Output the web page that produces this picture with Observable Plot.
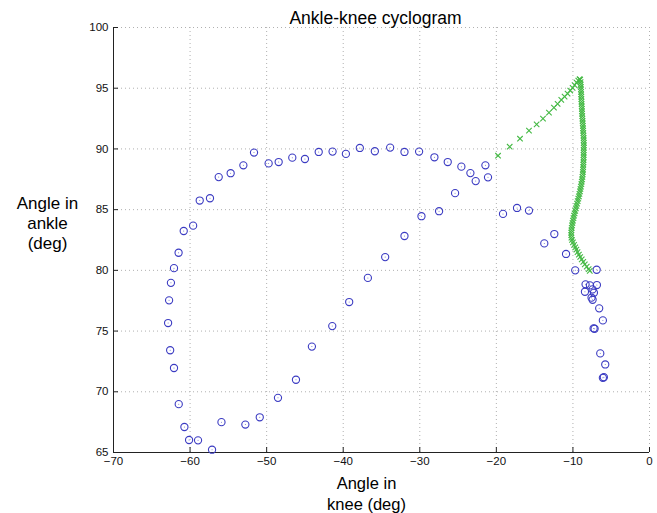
<!DOCTYPE html>
<html>
<head>
<meta charset="utf-8">
<script src="https://cdn.jsdelivr.net/npm/d3@7"></script>
<script src="https://cdn.jsdelivr.net/npm/@observablehq/plot@0.6"></script>
<style>
  html, body { margin: 0; padding: 0; background: #fff; }
  svg { display: block; }
</style>
</head>
<body>
<div id="chart"></div>
<script>
const titleText = "Ankle-knee cyclogram";
const xLabel = "Angle in\nknee (deg)";
const yLabel = "Angle in\nankle\n(deg)";
const xTicks = [-70, -60, -50, -40, -30, -20, -10, 0];
const yTicks = [65, 70, 75, 80, 85, 90, 95, 100];

// Blue circles (knee angle, ankle angle)
const blueKnee = [
  -21.43, -21.09, -22.7, -23.39, -24.57, -26.35, -28.09, -30.09, -32.0, -33.87,
  -35.87, -37.83, -39.65, -41.39, -43.2, -45.0, -46.65, -48.43, -49.74, -51.65,
  -53.04, -54.7, -56.26, -57.4, -58.74, -59.6, -60.83, -61.5, -62.1, -62.5,
  -62.74, -62.87, -62.6, -62.1, -61.48, -60.74, -60.13, -58.96, -57.13, -55.9,
  -52.78, -50.9, -48.52, -46.17, -44.09, -41.43, -39.22, -36.78, -34.52, -32.0,
  -29.78, -27.48, -25.39, -19.13, -17.3, -15.74, -13.74, -12.43, -10.9, -9.7,
  -6.9, -8.35, -7.78, -6.87, -8.43, -7.43, -7.26, -7.57, -7.43, -6.57,
  -6.09, -7.3, -7.17, -6.43, -5.78, -6.09, -5.96
];
const blueAnkle = [
  88.65, 87.66, 87.35, 88.01, 88.54, 88.92, 89.31, 89.78, 89.75, 90.11,
  89.81, 90.08, 89.59, 89.78, 89.75, 89.17, 89.28, 88.92, 88.81, 89.7,
  88.65, 88.0, 87.68, 85.94, 85.75, 83.68, 83.24, 81.45, 80.18, 78.97,
  77.53, 75.66, 73.42, 71.96, 68.98, 67.1, 66.03, 66.0, 65.23, 67.5,
  67.3, 67.9, 69.5, 70.99, 73.72, 75.41, 77.39, 79.38, 81.09, 82.83,
  84.46, 84.87, 86.36, 84.65, 85.14, 84.92, 82.22, 82.99, 81.35, 80.0,
  80.05, 78.85, 78.76, 78.79, 78.24, 78.43, 78.16, 77.75, 77.58, 76.87,
  75.88, 75.22, 75.19, 73.16, 72.25, 71.15, 71.2
];

// Green crosses (knee angle, ankle angle)
const greenKnee = [
  -19.78, -18.26, -16.91, -15.74, -14.74, -13.91, -13.13, -12.48, -12.0, -11.52,
  -11.09, -10.7, -10.35, -10.04, -9.78, -9.52, -9.3, -9.13,
  -9.05, -9.0, -8.98, -8.97, -8.95, -8.93, -8.92, -8.9, -8.9, -8.88,
  -8.87, -8.85, -8.83, -8.82, -8.8, -8.78, -8.76, -8.74, -8.72, -8.7,
  -8.68, -8.66, -8.64, -8.62, -8.6, -8.6, -8.58, -8.58, -8.58, -8.6,
  -8.6, -8.6, -8.6, -8.62, -8.62, -8.64, -8.66, -8.68, -8.7, -8.72,
  -8.76, -8.8, -8.85, -8.9, -8.96, -9.02, -9.08, -9.15, -9.22, -9.3,
  -9.38, -9.46, -9.54, -9.62, -9.7, -9.78, -9.86, -9.93, -10.0, -10.06,
  -10.12, -10.16, -10.2, -10.22, -10.22, -10.2, -10.12, -10.0, -9.85, -9.7,
  -9.55, -9.4, -9.22, -9.05, -8.85, -8.65, -8.45, -8.2, -7.95, -7.8
];
const greenAnkle = [
  89.44, 90.18, 90.84, 91.5, 92.02, 92.49, 92.99, 93.4, 93.71, 94.04,
  94.31, 94.56, 94.81, 95.03, 95.25, 95.47, 95.63, 95.74,
  95.7, 95.5, 95.3, 95.1, 94.9, 94.7, 94.5, 94.3, 94.1, 93.9,
  93.7, 93.5, 93.3, 93.1, 92.9, 92.7, 92.5, 92.3, 92.1, 91.9,
  91.7, 91.5, 91.3, 91.1, 90.9, 90.7, 90.5, 90.3, 90.1, 89.9,
  89.7, 89.5, 89.3, 89.1, 88.9, 88.7, 88.5, 88.3, 88.1, 87.9,
  87.7, 87.5, 87.3, 87.1, 86.9, 86.7, 86.5, 86.3, 86.1, 85.9,
  85.7, 85.5, 85.3, 85.1, 84.9, 84.7, 84.5, 84.3, 84.1, 83.9,
  83.7, 83.5, 83.3, 83.1, 82.9, 82.7, 82.5, 82.3, 82.1, 81.9,
  81.7, 81.5, 81.3, 81.1, 80.9, 80.7, 80.5, 80.3, 80.1, 79.95
];

const blue = blueKnee.map((k, i) => ({knee: k, ankle: blueAnkle[i]}));
const green = greenKnee.map((k, i) => ({knee: k, ankle: greenAnkle[i]}));

const W = 657, H = 513;
const mL = 113, mR = 8, mT = 27, mB = 61;
const frameW = W - mL - mR, frameH = H - mT - mB;
const font = "'Liberation Sans', Arial, sans-serif";

const chart = Plot.plot({
  width: W,
  height: H,
  marginLeft: mL,
  marginRight: mR,
  marginTop: mT,
  marginBottom: mB,
  style: {fontFamily: font, background: "#fff"},
  x: {domain: [-70, 0], label: null},
  y: {domain: [65, 100], label: null},
  marks: [
    Plot.gridX(xTicks, {stroke: "#b0b0b0", strokeOpacity: 1, strokeDasharray: "1,3"}),
    Plot.gridY(yTicks, {stroke: "#b0b0b0", strokeOpacity: 1, strokeDasharray: "1,3"}),
    Plot.ruleX([-70], {stroke: "#222", strokeWidth: 1}),
    Plot.ruleY([65], {stroke: "#222", strokeWidth: 1}),
    Plot.tickX(xTicks, {x: d => d, stroke: "#222", insetTop: frameH - 5}),
    Plot.tickY(yTicks, {y: d => d, stroke: "#222", insetRight: frameW - 5}),
    Plot.axisX(xTicks, {tickSize: 0, tickPadding: 4, fontSize: 11.5, fill: "#111", label: null}),
    Plot.axisY(yTicks, {tickSize: 0, tickPadding: 5, fontSize: 11.5, fill: "#111", label: null}),
    Plot.dot(blue, {x: "knee", y: "ankle", r: 3.6, stroke: "#3b3bc2", strokeWidth: 1.1, fill: "none"}),
    Plot.dot(blue, {x: "knee", y: "ankle", r: 0.5, fill: "#6a6ad0", stroke: "none"}),
    Plot.dot(green, {x: "knee", y: "ankle", symbol: "times", r: 2.6, stroke: "#44b944", strokeWidth: 1.1}),
    Plot.text([titleText], {frameAnchor: "top", lineAnchor: "middle", dx: -6, dy: -9, fontSize: 17.5, fill: "#000"}),
    Plot.text([yLabel], {frameAnchor: "left", lineAnchor: "middle", dx: -66, dy: -17, fontSize: 17, lineHeight: 1.18, fill: "#000", textAnchor: "middle"}),
    Plot.text([xLabel], {frameAnchor: "bottom", lineAnchor: "middle", dx: -15, dy: 40.5, fontSize: 16.5, lineHeight: 1.24, fill: "#000", textAnchor: "middle"})
  ]
});
document.getElementById("chart").appendChild(chart);
</script>
</body>
</html>
